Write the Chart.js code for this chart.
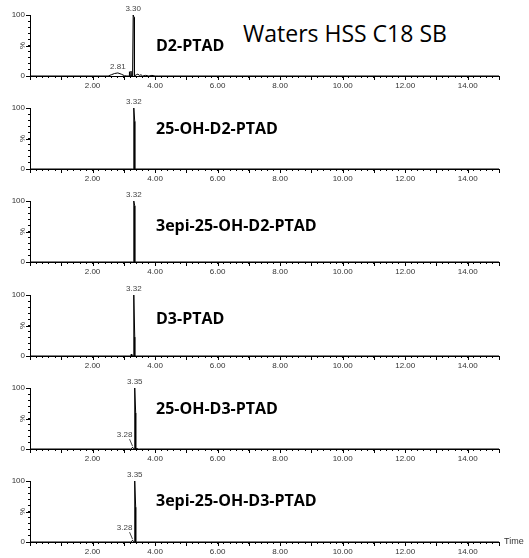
<!DOCTYPE html>
<html>
<head>
<meta charset="utf-8">
<title>Waters HSS C18 SB</title>
<script src="https://cdn.jsdelivr.net/npm/chart.js@4.4.1/dist/chart.umd.min.js"></script>
<style>
    html, body { margin: 0; padding: 0; background: #fff; }
    #page { position: relative; width: 529px; height: 558px; overflow: hidden; }
    .panel { position: absolute; left: 0; width: 529px; height: 93px; }
    .name { position: absolute; left: 156px; font: bold 16px 'Open Sans'; line-height: 20px; color: #000; white-space: nowrap; }
    #title { position: absolute; left: 243px; top: 20px; font: 23px 'Open Sans'; line-height: 26px; color: #000; white-space: nowrap; }
</style>
</head>
<body>
<div id="page">
    <div id="title">Waters HSS C18 SB</div>
</div>
<script>
// Nomi dei composti (un cromatogramma per riga)
const compoundNames = ['D2-PTAD', '25-OH-D2-PTAD', '3epi-25-OH-D2-PTAD', 'D3-PTAD', '25-OH-D3-PTAD', '3epi-25-OH-D3-PTAD'];

// Tracce: tempo (min) e intensita' relativa (%)
const timeD2 = [0, 2.50, 2.60, 2.70, 2.81, 2.92, 3.02, 3.10, 3.17, 3.18, 3.20, 3.23, 3.24, 3.28, 3.30, 3.33, 3.34, 3.40, 3.45, 3.50, 3.55, 3.60, 3.70, 3.80, 3.90, 4.00, 4.10, 15];
const intD2 = [0, 0, 2, 4, 5, 3, 0.5, 0, 0, 7, 0, 8, 0, 0, 100, 96, 0, 2, 3, 1, 2, 0, 1, 0, 1, 0, 0, 0];

const time25OHD2 = [0, 3.28, 3.30, 3.32, 3.35, 3.351, 3.38, 15];
const int25OHD2 = [0, 0, 0, 100, 78, 0, 0, 0];

const time3epiD2 = [0, 3.28, 3.30, 3.32, 3.35, 3.351, 3.38, 15];
const int3epiD2 = [0, 0, 0, 100, 92, 0, 0, 0];

const timeD3 = [0, 3.22, 3.24, 3.25, 3.27, 3.30, 3.32, 3.35, 3.351, 3.40, 15];
const intD3 = [0, 0, 3, 0, 2, 0, 100, 31, 0, 0, 0];

const time25OHD3 = [0, 3.22, 3.26, 3.28, 3.30, 3.33, 3.35, 3.38, 3.381, 3.42, 3.46, 3.50, 15];
const int25OHD3 = [0, 0, 1, 3, 1, 0, 100, 59, 0, 1, 0, 0, 0];

const time3epiD3 = [0, 3.22, 3.26, 3.28, 3.30, 3.33, 3.35, 3.38, 3.381, 3.45, 15];
const int3epiD3 = [0, 0, 1, 3, 1, 0, 100, 57, 0, 0, 0];

// Picchi etichettati (tempo di ritenzione e altezza)
const peakTimes = [[2.81, 3.30], [3.32], [3.32], [3.32], [3.28, 3.35], [3.28, 3.35]];
const peakHeights = [[5, 100], [100], [100], [100], [3, 100], [3, 100]];

const traceTimes = [timeD2, time25OHD2, time3epiD2, timeD3, time25OHD3, time3epiD3];
const traceInts = [intD2, int25OHD2, int3epiD2, intD3, int25OHD3, int3epiD3];

// Layout dei pannelli
const panelTop = [0, 93, 186, 280, 373, 466];
const nameTop = [35, 118, 215, 308, 398, 490];

Chart.defaults.font.family = 'Liberation Sans';

/**
 * Tacche lunghe, etichette dei picchi, "%" e "Time"
 */
const chromPlugin = {
    id: 'chrom',
    afterDraw(chart, args, opts) {
        const ctx = chart.ctx;
        const xs = chart.scales.x;
        const ys = chart.scales.y;
        const area = chart.chartArea;
        ctx.save();
        ctx.strokeStyle = '#000';
        ctx.lineWidth = 1;

        // tacche principali asse x (minuti interi)
        xs.ticks.forEach(function(t) {
            if (Math.abs(t.value - Math.round(t.value)) < 1e-6) {
                const px = Math.round(xs.getPixelForValue(t.value)) + 0.5;
                ctx.beginPath();
                ctx.moveTo(px, area.bottom);
                ctx.lineTo(px, area.bottom + 4);
                ctx.stroke();
            }
        });
        // tacche principali asse y (0, 50, 100)
        ys.ticks.forEach(function(t) {
            if (Math.round(t.value) % 50 === 0) {
                const py = Math.round(ys.getPixelForValue(t.value)) + 0.5;
                ctx.beginPath();
                ctx.moveTo(area.left - 4, py);
                ctx.lineTo(area.left, py);
                ctx.stroke();
            }
        });

        // simbolo % ruotato
        ctx.fillStyle = '#333';
        ctx.font = '8px "Liberation Sans"';
        ctx.textAlign = 'center';
        ctx.textBaseline = 'middle';
        ctx.save();
        ctx.translate(area.left - 7, ys.getPixelForValue(50));
        ctx.rotate(-Math.PI / 2);
        ctx.fillText('%', 0, 0);
        ctx.restore();

        // etichette dei picchi
        const times = opts.times || [];
        const heights = opts.heights || [];
        ctx.fillStyle = '#444';
        ctx.textBaseline = 'bottom';
        times.forEach(function(t, k) {
            const px = xs.getPixelForValue(t);
            const py = ys.getPixelForValue(heights[k]);
            const label = t.toFixed(2);
            const nearBigger = times.some(function(u, j) {
                return j !== k && Math.abs(u - t) < 0.15 && heights[j] > heights[k];
            });
            if (nearBigger) {
                ctx.fillText(label, px - 8, py - 8);
                ctx.beginPath();
                ctx.moveTo(px - 3, py - 8);
                ctx.lineTo(px, py - 1);
                ctx.strokeStyle = '#444';
                ctx.stroke();
            } else {
                ctx.fillText(label, px, py - 2);
            }
        });

        if (opts.showTime) {
            ctx.fillStyle = '#333';
            ctx.font = '9px "Liberation Sans"';
            ctx.textAlign = 'left';
            ctx.textBaseline = 'middle';
            ctx.fillText('Time', area.right + 5, area.bottom);
        }
        ctx.restore();
    }
};

function makePanel(i) {
    const page = document.getElementById('page');
    const wrap = document.createElement('div');
    wrap.className = 'panel';
    wrap.style.top = panelTop[i] + 'px';
    const canvas = document.createElement('canvas');
    canvas.width = 529;
    canvas.height = 93;
    wrap.appendChild(canvas);
    page.appendChild(wrap);

    const name = document.createElement('div');
    name.className = 'name';
    name.style.top = nameTop[i] + 'px';
    name.textContent = compoundNames[i];
    page.appendChild(name);

    const points = traceTimes[i].map(function(t, k) {
        return { x: t, y: traceInts[i][k] };
    });

    new Chart(canvas, {
        type: 'line',
        data: {
            datasets: [{
                data: points,
                borderColor: '#000',
                borderWidth: 1,
                pointRadius: 0,
                tension: 0,
                clip: false
            }]
        },
        options: {
            responsive: false,
            animation: false,
            layout: { padding: { top: 15, right: 30, left: 0, bottom: 0 } },
            plugins: {
                legend: { display: false },
                tooltip: { enabled: false },
                chrom: {
                    times: peakTimes[i],
                    heights: peakHeights[i],
                    showTime: i === compoundNames.length - 1
                }
            },
            scales: {
                x: {
                    type: 'linear',
                    min: 0,
                    max: 15,
                    afterFit: function(scale) { scale.height = 17; },
                    border: { color: '#000', width: 1 },
                    grid: { drawOnChartArea: false, tickLength: 2, tickColor: '#000' },
                    ticks: {
                        stepSize: 0.2,
                        autoSkip: false,
                        maxRotation: 0,
                        padding: 3,
                        color: '#333',
                        font: { size: 8 },
                        callback: function(value) {
                            const r = Math.round(value);
                            if (Math.abs(value - r) < 1e-6 && r > 0 && r % 2 === 0) {
                                return r.toFixed(2);
                            }
                            return '';
                        }
                    }
                },
                y: {
                    min: 0,
                    max: 100,
                    afterFit: function(scale) { scale.width = 30; },
                    border: { color: '#000', width: 1 },
                    grid: { drawOnChartArea: false, tickLength: 2, tickColor: '#000' },
                    ticks: {
                        stepSize: 10,
                        autoSkip: false,
                        padding: 3,
                        color: '#333',
                        font: { size: 8 },
                        callback: function(value) {
                            return (value === 0 || value === 100) ? String(value) : '';
                        }
                    }
                }
            }
        },
        plugins: [chromPlugin]
    });
}

document.addEventListener('DOMContentLoaded', function() {
    for (let i = 0; i < compoundNames.length; i++) {
        makePanel(i);
    }
});
</script>
</body>
</html>
